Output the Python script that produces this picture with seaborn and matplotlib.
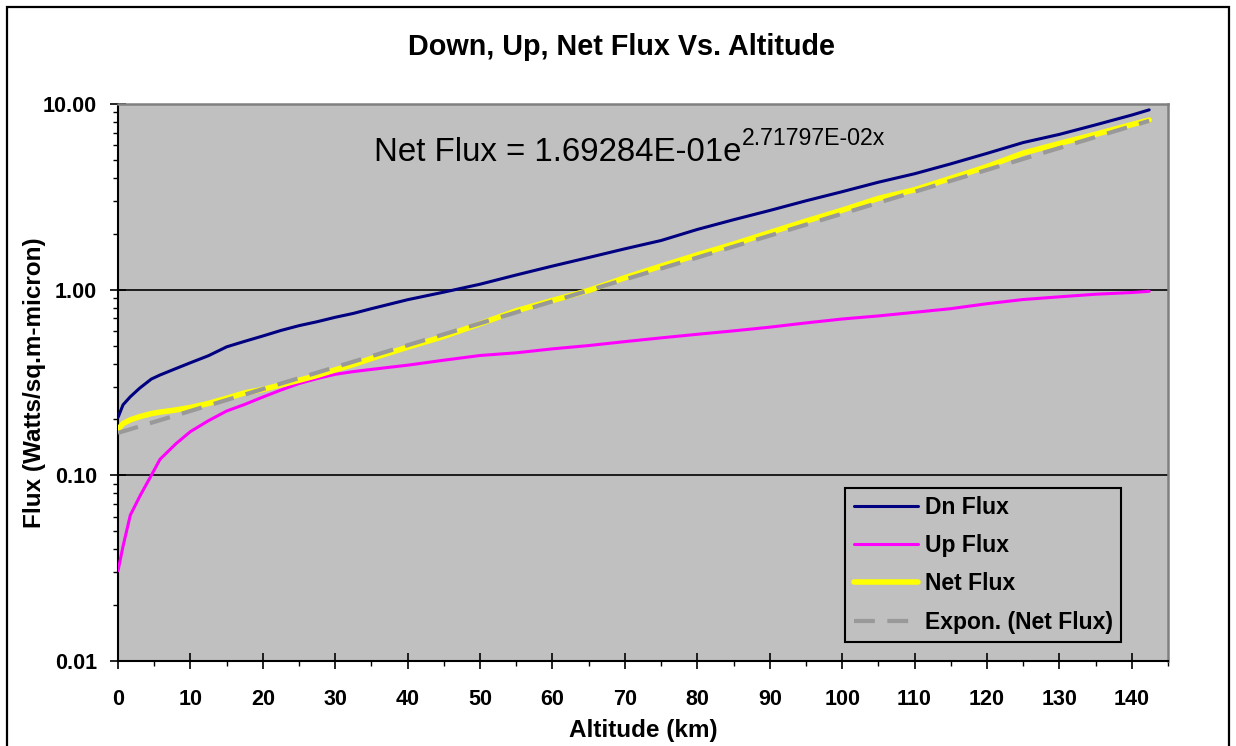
import numpy as np
import pandas as pd
import matplotlib
matplotlib.use("Agg")
import matplotlib.pyplot as plt
from matplotlib.patches import Rectangle
from matplotlib.ticker import MultipleLocator, LogLocator, FuncFormatter, NullFormatter
import seaborn as sns

# ---------------- data ----------------
altitude_km = [0, 0.7, 1.7, 3, 4.6, 5.8, 8, 10, 12.5, 15, 17.5, 20, 22.5, 25, 27.5,
               30, 32.5, 35, 40, 45, 50, 55, 60, 65, 70, 75, 80, 85, 90, 95, 100,
               105, 110, 115, 120, 125, 130, 135, 140, 142.4]

dn_flux = [0.205, 0.24, 0.265, 0.295, 0.33, 0.347, 0.376, 0.404, 0.441, 0.492, 0.527,
           0.563, 0.603, 0.64, 0.672, 0.71, 0.745, 0.79, 0.883, 0.97, 1.07, 1.20,
           1.34, 1.49, 1.66, 1.84, 2.11, 2.38, 2.67, 3.01, 3.37, 3.79, 4.21, 4.76,
           5.42, 6.20, 6.86, 7.72, 8.72, 9.3]

up_flux = [0.0306, 0.0416, 0.061, 0.077, 0.10, 0.122, 0.148, 0.172, 0.197, 0.222,
           0.241, 0.264, 0.288, 0.312, 0.332, 0.35, 0.362, 0.372, 0.392, 0.417,
           0.442, 0.457, 0.48, 0.50, 0.525, 0.55, 0.575, 0.60, 0.628, 0.662, 0.695,
           0.722, 0.755, 0.79, 0.84, 0.885, 0.915, 0.945, 0.965, 0.98]

net_flux = [0.177, 0.19, 0.199, 0.207, 0.215, 0.219, 0.225, 0.232, 0.244, 0.26, 0.278,
            0.29, 0.307, 0.325, 0.345, 0.37, 0.395, 0.426, 0.49, 0.56, 0.655, 0.77,
            0.875, 0.99, 1.16, 1.34, 1.54, 1.76, 2.03, 2.34, 2.68, 3.10, 3.45, 3.98,
            4.60, 5.44, 6.13, 6.87, 7.75, 8.2]

# exponential trend-line coefficients shown on the chart
TREND_A = 1.69284e-01
TREND_B = 2.71797e-02

series_names = ["Dn Flux", "Up Flux", "Net Flux", "Expon. (Net Flux)"]
y_tick_values = [0.01, 0.1, 1, 10]
x_tick_values = list(range(0, 141, 10))

title_text = "Down, Up, Net Flux Vs. Altitude"
x_label = "Altitude (km)"
y_label = "Flux (Watts/sq.m-micron)"
eq_main = "Net Flux = 1.69284E-01e"
eq_sup = "2.71797E-02x"

# ---------------- figure ----------------
sns.set_style("white")
plt.rcParams["font.family"] = ["Liberation Sans", "DejaVu Sans"]
plt.rcParams["text.color"] = "black"
plt.rcParams["axes.labelcolor"] = "black"
plt.rcParams["xtick.color"] = "black"
plt.rcParams["ytick.color"] = "black"

W, H = 1236, 746
fig = plt.figure(figsize=(W / 100, H / 100), dpi=100)
fig.patch.set_facecolor("white")

ax_l, ax_r, ax_t, ax_b = 118, 1168, 104, 661
ax = fig.add_axes([ax_l / W, 1 - ax_b / H, (ax_r - ax_l) / W, (ax_b - ax_t) / H])
ax.set_facecolor("#C0C0C0")

df = pd.DataFrame({"alt": altitude_km, "dn": dn_flux, "up": up_flux, "net": net_flux})
trend = pd.DataFrame({"alt": altitude_km})
trend["fit"] = TREND_A * np.exp(TREND_B * trend["alt"])

sns.lineplot(data=df, x="alt", y="dn", ax=ax, color="#000080", linewidth=2.2,
             label=series_names[0], estimator=None, zorder=3)
sns.lineplot(data=df, x="alt", y="up", ax=ax, color="#FF00FF", linewidth=2.2,
             label=series_names[1], estimator=None, zorder=3)
sns.lineplot(data=df, x="alt", y="net", ax=ax, color="#FFFF00", linewidth=4.0,
             label=series_names[2], estimator=None, zorder=4)
sns.lineplot(data=trend, x="alt", y="fit", ax=ax, color="#999999", linewidth=3.0,
             label=series_names[3], estimator=None, zorder=5)
ax.lines[-1].set_dashes((5, 3))

ax.set_yscale("log")
ax.set_ylim(0.01, 10)
ax.set_xlim(0, 145)

ax.set_xticks(x_tick_values)
ax.xaxis.set_minor_locator(MultipleLocator(5))
ax.set_yticks(y_tick_values)
ax.yaxis.set_major_formatter(FuncFormatter(lambda v, p: f"{v:.2f}"))
ax.yaxis.set_minor_locator(LogLocator(base=10, subs=np.arange(2, 10)))
ax.yaxis.set_minor_formatter(NullFormatter())

for lab in ax.get_xticklabels() + ax.get_yticklabels():
    lab.set_fontsize(15.5)
    lab.set_fontweight("bold")

ax.tick_params(left=True, bottom=True, top=False, right=False, which="both")
ax.tick_params(axis="both", which="major", direction="inout", length=11, width=1.2,
               color="black", labelcolor="black")
ax.tick_params(axis="x", which="major", pad=15)
ax.tick_params(axis="y", which="major", pad=9.5)
ax.tick_params(axis="both", which="minor", direction="out", length=3.8, width=1.0,
               color="black")

ax.grid(False)
ax.yaxis.grid(True, which="major", color="black", linewidth=1.2)
ax.set_axisbelow(True)

for side in ["left", "bottom"]:
    ax.spines[side].set_color("black")
    ax.spines[side].set_linewidth(1.5)
for side in ["top", "right"]:
    ax.spines[side].set_color("#808080")
    ax.spines[side].set_linewidth(1.8)

ax.set_xlabel(x_label, fontsize=17.5, fontweight="bold", labelpad=6)
ax.set_ylabel(y_label, fontsize=17.5, fontweight="bold", labelpad=-2)

fig.text(621 / W, 1 - 47 / H, title_text, ha="center", va="center",
         fontsize=20.7, fontweight="bold")

# equation label
t_main = ax.text((374 - ax_l) / (ax_r - ax_l), (ax_b - 161) / (ax_b - ax_t), eq_main,
                 transform=ax.transAxes, ha="left", va="baseline", fontsize=23.8)
ax.annotate(eq_sup, xy=(1, 1), xycoords=t_main, xytext=(0.5, 7),
            textcoords="offset points", ha="left", va="top", fontsize=16.7)

leg = ax.legend(loc="upper right",
                bbox_to_anchor=((1121 - ax_l) / (ax_r - ax_l), (ax_b - 488) / (ax_b - ax_t)),
                borderaxespad=0, frameon=True, fancybox=False, facecolor="#C0C0C0",
                edgecolor="black", framealpha=1, handlelength=2.8, handletextpad=0.3,
                labelspacing=0.66, borderpad=0.36,
                prop={"size": 16.5, "weight": "bold", "family": "Liberation Sans"})
leg.get_frame().set_linewidth(1.5)

# outer chart border
fig.patches.append(Rectangle((7 / W, -0.02), (1229 - 7) / W, 1 - 7 / H + 0.02,
                             transform=fig.transFigure, fill=False,
                             edgecolor="black", linewidth=1.6))

fig.savefig("out.png", dpi=100)
